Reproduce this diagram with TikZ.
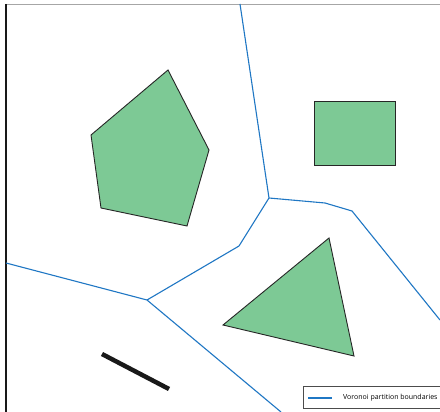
\documentclass[tikz,border=0pt]{standalone}
\usepackage{fontspec}
\setmainfont{Open Sans}
\begin{document}
\begin{tikzpicture}[x=1pt,y=-1pt,
  obst/.style={fill=obgreen,draw=black!85,line width=0.9pt,line join=miter},
  vor/.style={draw=vorblue,line width=1.1pt},
  legbox/.style={draw=black!70,line width=0.8pt,fill=white}]
\definecolor{obgreen}{RGB}{125,201,149}
\definecolor{vorblue}{RGB}{31,119,196}
\useasboundingbox (0,0) rectangle (440,412);
\fill[white] (0,0) rectangle (440,412);
% frame
\draw[black!35,line width=0.8pt] (6,4) -- (440,4);
\draw[black!90,line width=1.3pt] (6,4) -- (6,412);
% obstacles
\draw[obst] (168,70) -- (209,150) -- (187,226) -- (101,208) -- (91,135) -- cycle;
\draw[obst] (314,101) rectangle (395,165);
\draw[obst] (329,238) -- (354,356) -- (223,325) -- cycle;
\draw[black!90,line width=4.5pt] (102,354) -- (169,389);
% Voronoi boundaries
\coordinate (t) at (240,4);
\coordinate (j1) at (269,198);
\coordinate (a1) at (325,203);
\coordinate (a2) at (352,211);
\coordinate (r) at (440,320);
\coordinate (b1) at (239,246);
\coordinate (j2) at (147,300);
\coordinate (l) at (6,263);
\coordinate (bt) at (281,412);
\draw[vor] (t) -- (j1) -- (a1) -- (a2) -- (r);
\draw[vor] (j1) -- (b1) -- (j2);
\draw[vor] (l) -- (j2) -- (bt);
% legend
\node[legbox,minimum width=140pt,minimum height=22pt,anchor=north west] (leg) at (303,386) {};
\coordinate (ls) at (308,398);
\coordinate (le) at (332,398);
\draw[vor] (ls) -- (le);
\node[anchor=west,inner sep=0pt,font=\fontsize{7}{8}\selectfont] (lt) at (343,398) {Voronoi partition boundaries};
\end{tikzpicture}
\end{document}
